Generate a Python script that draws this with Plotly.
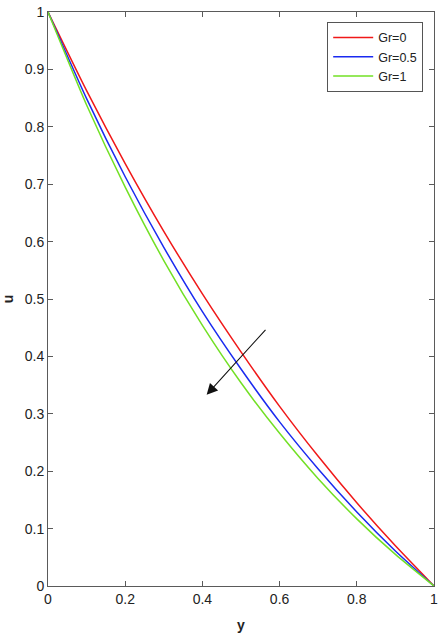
import plotly.graph_objects as go

y_vals = [0.0, 0.1, 0.2, 0.3, 0.4, 0.5, 0.6, 0.7, 0.8, 0.9, 1.0]
u_gr0 = [1.0, 0.863, 0.736, 0.618, 0.509, 0.408, 0.313, 0.226, 0.145, 0.070, 0.0]
u_gr05 = [1.0, 0.849, 0.713, 0.590, 0.478, 0.378, 0.286, 0.204, 0.129, 0.061, 0.0]
u_gr1 = [1.0, 0.838, 0.695, 0.567, 0.454, 0.354, 0.266, 0.187, 0.117, 0.055, 0.0]
series_names = ["Gr=0", "Gr=0.5", "Gr=1"]
series_colors = ["#f01818", "#1a2af0", "#72e024"]

x_ticks = [0, 0.2, 0.4, 0.6, 0.8, 1]
x_tick_text = ["0", "0.2", "0.4", "0.6", "0.8", "1"]
y_ticks = [0, 0.1, 0.2, 0.3, 0.4, 0.5, 0.6, 0.7, 0.8, 0.9, 1]
y_tick_text = ["0", "0.1", "0.2", "0.3", "0.4", "0.5", "0.6", "0.7", "0.8", "0.9", "1"]

arrow_tail = (0.567, 0.449)
arrow_tip = (0.411, 0.333)

fig = go.Figure()
for name, vals, col in zip(series_names, [u_gr0, u_gr05, u_gr1], series_colors):
    fig.add_trace(go.Scatter(x=y_vals, y=vals, mode="lines", name=name,
                             line=dict(color=col, width=1.5, shape="spline", smoothing=0.6)))

axis_col = "#5a5a5a"
fig.update_layout(
    width=443, height=640,
    margin=dict(l=48, r=9, t=12, b=54, autoexpand=False),
    paper_bgcolor="white", plot_bgcolor="white",
    font=dict(family="Liberation Sans, Arial, sans-serif", size=14, color="#222"),
    xaxis=dict(range=[0, 1], tickvals=x_ticks, ticktext=x_tick_text, automargin=True,
               ticklabeloverflow="allow",
               showgrid=False, zeroline=False, showline=True, linecolor=axis_col,
               linewidth=1, mirror="ticks", ticks="inside", ticklen=5, tickcolor=axis_col,
               title=dict(text="<b>y</b>", font=dict(size=14), standoff=14)),
    yaxis=dict(range=[0, 1], tickvals=y_ticks, ticktext=y_tick_text, automargin=True,
               ticklabeloverflow="allow",
               showgrid=False, zeroline=False, showline=True, linecolor=axis_col,
               linewidth=1, mirror="ticks", ticks="inside", ticklen=5, tickcolor=axis_col,
               title=dict(text="<b>u</b>", font=dict(size=14), standoff=8)),
    legend=dict(x=0.972, y=0.983, xanchor="right", yanchor="top",
                bordercolor="#555", borderwidth=1, bgcolor="white",
                font=dict(size=12.5), tracegroupgap=0, itemwidth=40),
    showlegend=True,
)

fig.add_annotation(x=arrow_tip[0], y=arrow_tip[1], ax=arrow_tail[0], ay=arrow_tail[1],
                   xref="x", yref="y", axref="x", ayref="y", text="",
                   showarrow=True, arrowhead=2, arrowsize=2, arrowwidth=1.1, arrowcolor="#111")

fig.write_html("out.html", config={"displayModeBar": False},
               post_script="document.body.style.margin='0';")
